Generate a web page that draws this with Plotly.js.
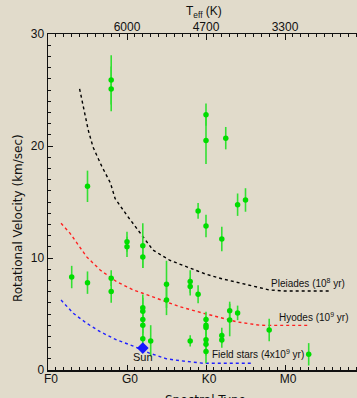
<!DOCTYPE html>
<html>
<head>
<meta charset="utf-8">
<script src="https://cdn.plot.ly/plotly-3.0.1.min.js"></script>
<style>
html,body{margin:0;padding:0;overflow:hidden;background:#e1dbcb;}
#chart{width:380px;height:420px;}
</style>
</head>
<body>
<div id="chart"></div>
<script>
// Spectral type position (F0=0, G0=10, K0=20, M0=30), rotational velocity (km/s), error
const specType = [3, 5, 5, 8, 8, 8, 8, 10, 10, 12, 12, 12, 12, 12, 12, 12, 13, 15, 15, 18, 18, 18, 19, 19,
                  20, 20, 20, 20, 20, 20, 20, 20, 20, 22, 22, 22, 22.5, 23, 23, 24, 24, 25, 28, 33];
const vrot =     [8.3, 7.8, 16.4, 25.9, 25.1, 8.2, 7.0, 11.45, 11.0, 11.1, 10.1, 5.55, 5.25, 4.5, 4.0, 2.8, 2.6, 7.65, 6.25, 7.9, 7.45, 2.6, 6.76, 14.2,
                  22.8, 20.5, 12.86, 4.5, 4.0, 3.8, 2.7, 2.3, 1.65, 11.7, 3.07, 2.68, 20.7, 5.3, 4.46, 14.76, 5.1, 15.18, 3.57, 1.4];
const vErr =     [1.0, 1.0, 1.4, 2.2, 2.0, 0.7, 1.0, 0.9, 0.9, 2.0, 1.0, 1.2, 1.2, 1.2, 1.2, 1.2, 1.4, 2.1, 1.35, 1.0, 0.8, 0.5, 0.8, 0.7,
                  1.0, 2.1, 1.0, 0.7, 0.8, 0.8, 1.0, 1.0, 1.05, 1.1, 0.7, 0.7, 1.0, 0.8, 1.45, 1.0, 0.65, 1.05, 1.0, 1.0];

const sunType = [12];
const sunV = [1.96];

const pleiadesX = [4.0, 4.7, 5.1, 5.7, 6.8, 7.9, 8.5, 10.0, 11.7, 13.3, 15.4, 17.0, 18.5, 20.0, 22.0, 24.0, 26.0, 28.0, 30.0, 35.8];
const pleiadesV = [25.1, 22.6, 21.4, 19.9, 18.2, 16.7, 15.3, 13.8, 12.2, 10.7, 9.8, 9.35, 8.95, 8.55, 8.15, 7.8, 7.45, 7.15, 7.05, 7.05];

const hyadesX = [1.65, 2.8, 4.9, 6.6, 8.7, 10.8, 12.0, 15.0, 16.7, 19.7, 23.9, 26.8, 28.0, 33.0];
const hyadesV = [13.1, 12.2, 10.1, 8.93, 7.88, 7.14, 6.85, 6.1, 5.65, 5.06, 4.3, 4.0, 3.98, 3.98];

const fieldX = [1.65, 3.2, 4.9, 6.6, 8.7, 10.8, 12.9, 15.0, 16.7, 19.7, 26.0];
const fieldV = [6.25, 5.06, 4.17, 3.42, 2.68, 2.14, 1.49, 1.0, 0.83, 0.6, 0.6];

const bottomLabels = {'0': 'F0', '10': 'G0', '20': 'K0', '30': 'M0', '40': ''};
const topLabels = {'0': '', '10': '6000', '20': '4700', '30': '3300', '40': ''};

const bg = '#e1dbcb';
const tickFont = {family: 'Liberation Sans, Arial, sans-serif', size: 12, color: '#111'};

const traces = [
  {x: pleiadesX, y: pleiadesV, mode: 'lines', line: {color: '#000000', width: 1.4, dash: 'dot'}, hoverinfo: 'skip'},
  {x: hyadesX, y: hyadesV, mode: 'lines', line: {color: '#ff2020', width: 1.4, dash: 'dot'}, hoverinfo: 'skip'},
  {x: fieldX, y: fieldV, mode: 'lines', line: {color: '#2020ff', width: 1.4, dash: 'dot'}, hoverinfo: 'skip'},
  {x: specType, y: vrot, mode: 'markers',
   marker: {color: '#00dd00', size: 5.5, symbol: 'circle'},
   error_y: {type: 'data', array: vErr, visible: true, color: '#33e033', thickness: 1.6, width: 0}},
  {x: sunType, y: sunV, mode: 'markers', marker: {color: '#1818ff', size: 9, symbol: 'diamond'}},
  {x: [], y: [], xaxis: 'x2', yaxis: 'y', mode: 'markers', hoverinfo: 'skip'}
];

const layout = {
  width: 380, height: 420,
  margin: {l: 48, r: 16, t: 34, b: 50},
  paper_bgcolor: bg, plot_bgcolor: bg,
  showlegend: false,
  xaxis: {
    range: [0, 40], tickmode: 'linear', tick0: 0, dtick: 10, labelalias: bottomLabels,
    ticks: 'inside', ticklen: 5, tickwidth: 1, tickcolor: '#111',
    minor: {tickmode: 'linear', tick0: 0, dtick: 1, ticks: 'inside', ticklen: 3, tickcolor: '#111', showgrid: false},
    showline: true, linecolor: '#111', linewidth: 1.5, showgrid: false, zeroline: false,
    tickfont: tickFont, ticklabelshift: 3, ticklabelstandoff: -3
  },
  xaxis2: {
    overlaying: 'x', side: 'top', anchor: 'y',
    range: [0, 40], tickmode: 'linear', tick0: 0, dtick: 10, labelalias: topLabels,
    ticks: 'inside', ticklen: 6, tickwidth: 1, tickcolor: '#111',
    minor: {tickmode: 'linear', tick0: 0, dtick: 1, ticks: 'inside', ticklen: 3, tickcolor: '#111', showgrid: false},
    showline: true, linecolor: '#111', linewidth: 1.5, showgrid: false, zeroline: false,
    tickfont: tickFont, ticklabelstandoff: -3
  },
  yaxis: {
    range: [0, 30], tickmode: 'linear', tick0: 0, dtick: 10,
    ticks: 'inside', ticklen: 5, tickwidth: 1, tickcolor: '#111',
    minor: {tickmode: 'linear', tick0: 0, dtick: 1, ticks: 'inside', ticklen: 3, tickcolor: '#111', showgrid: false},
    showline: true, linecolor: '#111', linewidth: 1.5, showgrid: false, zeroline: false,
    tickfont: tickFont
  },
  annotations: [
    {xref: 'x', yref: 'y', x: 27.97, y: 7.74, xanchor: 'left', yanchor: 'middle', showarrow: false,
     text: 'Pleiades (10<sup>8</sup> yr)', font: {family: 'Liberation Sans, Arial', size: 10, color: '#111'}},
    {xref: 'x', yref: 'y', x: 29.0, y: 4.7, xanchor: 'left', yanchor: 'middle', showarrow: false,
     text: 'Hyodes (10<sup>9</sup> yr)', font: {family: 'Liberation Sans, Arial', size: 10, color: '#111'}},
    {xref: 'x', yref: 'y', x: 20.5, y: 1.4, xanchor: 'left', yanchor: 'middle', showarrow: false,
     text: 'Field stars (4x10<sup>9</sup> yr)', font: {family: 'Liberation Sans, Arial', size: 10, color: '#111'}},
    {xref: 'x', yref: 'y', x: 12, y: 1.13, xanchor: 'center', yanchor: 'middle', showarrow: false,
     text: 'Sun', font: {family: 'Liberation Sans, Arial', size: 11, color: '#111'}},
    {xref: 'paper', yref: 'paper', x: -0.095, y: 0.452, xanchor: 'center', yanchor: 'middle', showarrow: false,
     textangle: -90, text: 'Rotational Velocity (km/sec)', font: {family: 'DejaVu Sans, sans-serif', size: 12, color: '#111'}},
    {xref: 'paper', yref: 'paper', x: 0.497, y: -0.06, xanchor: 'center', yanchor: 'top', showarrow: false, yshift: -1,
     text: 'Spectral Type', font: {family: 'DejaVu Sans, sans-serif', size: 12, color: '#111'}},
    {xref: 'paper', yref: 'paper', x: 0.494, y: 1.0595, xanchor: 'center', yanchor: 'middle', showarrow: false, yshift: 2,
     text: 'T<sub>eff</sub> (K)', font: {family: 'Liberation Sans, Arial', size: 12, color: '#111'}}
  ]
};

Plotly.newPlot('chart', traces, layout, {displayModeBar: false, staticPlot: true});
</script>
</body>
</html>
